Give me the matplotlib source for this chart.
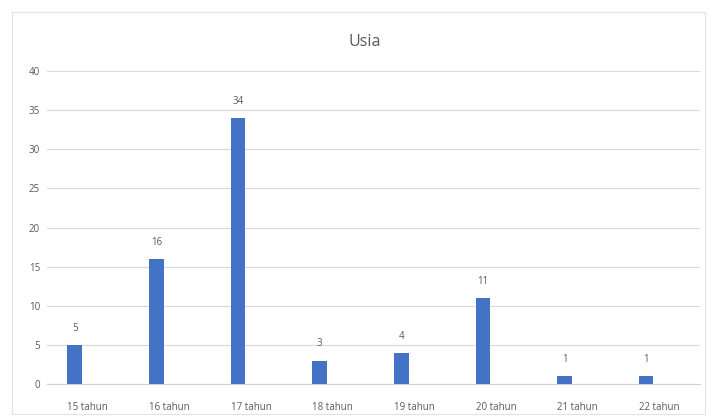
import matplotlib.pyplot as plt
from matplotlib.patches import Rectangle

# data
categories = ["15 tahun", "16 tahun", "17 tahun", "18 tahun",
              "19 tahun", "20 tahun", "21 tahun", "22 tahun"]
values = [5, 16, 34, 3, 4, 11, 1, 1]
yticks = [0, 5, 10, 15, 20, 25, 30, 35, 40]

BAR_COLOR = "#4472C4"
TEXT_COLOR = "#595959"
GRID_COLOR = "#D9D9D9"

plt.rcParams['font.family'] = ['Open Sans', 'DejaVu Sans']

fig = plt.figure(figsize=(7.12, 4.16), dpi=100)
fig.patch.set_facecolor("white")

# chart border like an Excel chart area
fig.patches.append(Rectangle((12 / 712, 1 - 414 / 416), 693 / 712, 402 / 416,
                             transform=fig.transFigure, fill=False,
                             edgecolor="#E3E3E3", linewidth=0.8))

ax = fig.add_axes([47 / 712, 1 - 384 / 416, 653 / 712, 313 / 416])

xs = range(len(categories))
bar_x = [x - 0.16 for x in xs]
bars = ax.bar(bar_x, values, width=0.18, color=BAR_COLOR, zorder=3)

for bx, v in zip(bar_x, values):
    ax.annotate(str(v), (bx, v), xytext=(0, 8), textcoords="offset points",
                ha="center", va="bottom", fontsize=7, color=TEXT_COLOR)

ax.set_xlim(-0.5, len(categories) - 0.5)
ax.set_ylim(0, 40)
ax.set_yticks(yticks)
ax.set_xticks(list(xs))
ax.set_xticklabels(categories)
ax.tick_params(axis="both", length=0, labelsize=7, colors=TEXT_COLOR)
ax.tick_params(axis="y", pad=5)
ax.tick_params(axis="x", pad=13)

ax.grid(axis="y", color=GRID_COLOR, linewidth=0.8, zorder=0)
for side in ["top", "right", "left"]:
    ax.spines[side].set_visible(False)
ax.spines["bottom"].set_color("#D0D0D0")
ax.spines["bottom"].set_linewidth(0.8)

fig.text(365 / 712, 1 - 42 / 416, "Usia", ha="center", va="center",
         fontsize=11.5, color=TEXT_COLOR)

fig.savefig("out.png", dpi=100)
